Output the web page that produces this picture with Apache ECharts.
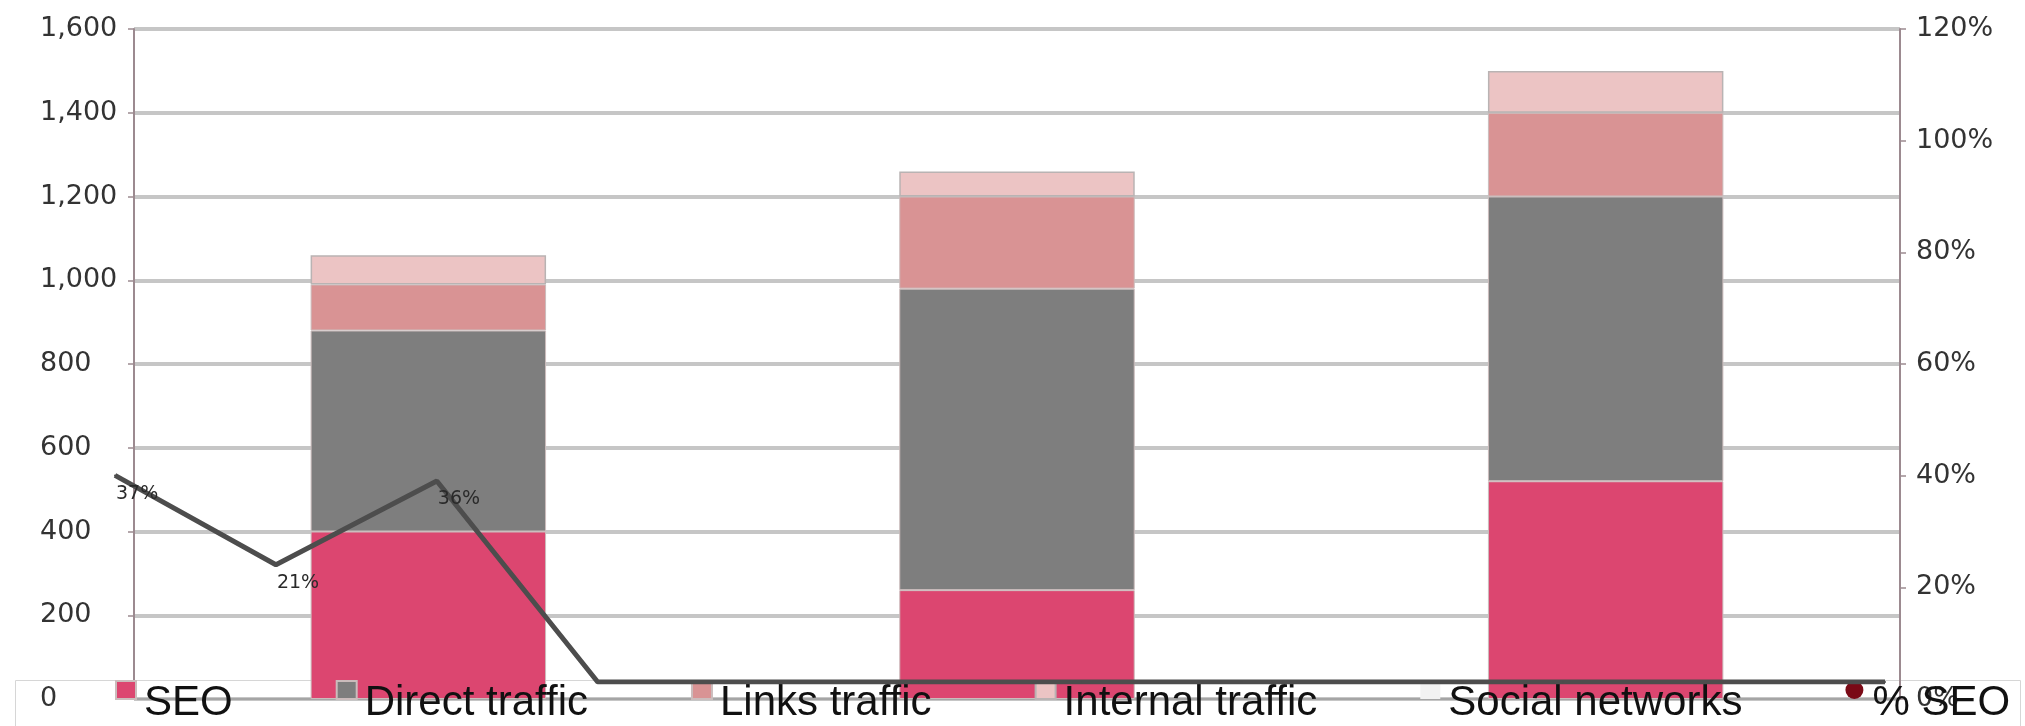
<!DOCTYPE html>
<html>
<head>
<meta charset="utf-8">
<script src="https://cdn.jsdelivr.net/npm/echarts@6/dist/echarts.min.js"></script>
<style>html,body{margin:0;padding:0;background:#fff;}#c{width:2025px;height:726px;}</style>
</head>
<body>
<div id="c"></div>
<script>
const categories = ['Period 1', 'Period 2', 'Period 3'];
const seoValues = [400, 260, 520];
const directValues = [480, 720, 680];
const linksValues = [110, 220, 200];
const internalValues = [70, 60, 100];
const socialValues = [0, 0, 0];
const months = ['Jan','Feb','Mar','Apr','May','Jun','Jul','Aug','Sep','Oct','Nov','Dec'];
const pctSeoValues = [37, 21, 36, 0, 0, 0, 0, 0, 0, 0, 0, 0];
const leftMax = 1600, leftInterval = 200;
const rightMax = 120, rightInterval = 20;

const chart = echarts.init(document.getElementById('c'), null, {renderer: 'canvas'});
const axisColor = '#9c8a90';
const barBorder = {borderColor: '#cbbcbc', borderWidth: 1};

chart.setOption({
  animation: false,
  backgroundColor: '#fff',
  grid: [
    {left: 134, right: 125, top: 29, bottom: 27},
    {left: 115, right: 140, top: 12, bottom: 44}
  ],
  graphic: [{
    type: 'rect', z: -1, silent: true,
    shape: {x: 15.5, y: 680.5, width: 2005, height: 60},
    style: {fill: 'none', stroke: '#d6d6d6', lineWidth: 1}
  }],
  legend: {
    left: 115, top: 664, padding: 0,
    itemWidth: 20, itemHeight: 18, itemGap: 103,
    formatter: name => '{s| }\n{t|' + name + '}',
    textStyle: {
      fontFamily: 'Liberation Sans', fontSize: 42, color: '#111',
      rich: {
        s: {fontSize: 10, lineHeight: 26},
        t: {fontFamily: 'Liberation Sans', fontSize: 42, lineHeight: 42, color: '#111', padding: [0, 0, 0, 3]}
      }
    },
    data: [
      {name: 'SEO', icon: 'rect'},
      {name: 'Direct traffic', icon: 'rect'},
      {name: 'Links traffic', icon: 'rect'},
      {name: 'Internal traffic', icon: 'rect'},
      {name: 'Social networks', icon: 'rect'},
      {name: '% SEO', icon: 'circle', itemStyle: {color: '#7a0a16'}}
    ]
  },
  xAxis: [
    {type: 'category', gridIndex: 0, data: categories,
     axisLine: {show: true, lineStyle: {color: '#9a9a9a', width: 1.5}},
     axisTick: {show: false}, axisLabel: {show: false}, splitLine: {show: false}},
    {type: 'category', gridIndex: 1, data: months, boundaryGap: false, show: false}
  ],
  yAxis: [
    {type: 'value', gridIndex: 0, min: 0, max: leftMax, interval: leftInterval,
     axisLine: {show: true, lineStyle: {color: axisColor, width: 2}},
     axisTick: {show: true, length: 6, lineStyle: {color: axisColor, width: 1.5}},
     axisLabel: {align: 'left', margin: 94, fontFamily: 'DejaVu Sans', fontSize: 27, color: '#333',
       formatter: v => v.toLocaleString('en-US')},
     splitLine: {show: true, lineStyle: {color: '#c6c6c6', width: 4}}},
    {type: 'value', gridIndex: 0, position: 'right', min: 0, max: rightMax, interval: rightInterval,
     axisLine: {show: true, lineStyle: {color: axisColor, width: 2}},
     axisTick: {show: true, length: 6, lineStyle: {color: axisColor, width: 1.5}},
     axisLabel: {margin: 16, fontFamily: 'DejaVu Sans', fontSize: 27, color: '#333', formatter: v => v + '%'},
     splitLine: {show: false}},
    {type: 'value', gridIndex: 1, min: 0, max: rightMax, show: false, splitLine: {show: false}}
  ],
  series: [
    {name: 'SEO', type: 'bar', stack: 't', barWidth: '40%', data: seoValues,
     itemStyle: Object.assign({color: '#dc4670'}, barBorder)},
    {name: 'Direct traffic', type: 'bar', stack: 't', data: directValues,
     itemStyle: Object.assign({color: '#7e7e7e'}, barBorder)},
    {name: 'Links traffic', type: 'bar', stack: 't', data: linksValues,
     itemStyle: Object.assign({color: '#d99394'}, barBorder)},
    {name: 'Internal traffic', type: 'bar', stack: 't', data: internalValues,
     itemStyle: {color: '#ecc4c4', borderColor: '#b9b3b3', borderWidth: 1.5}},
    {name: 'Social networks', type: 'bar', stack: 't', data: socialValues,
     itemStyle: {color: '#f2f2f2', borderWidth: 0}},
    {name: '% SEO', type: 'line', xAxisIndex: 1, yAxisIndex: 2, data: pctSeoValues,
     symbol: 'circle', symbolSize: 2, z: 10,
     itemStyle: {color: '#4d4d4d'},
     lineStyle: {color: '#4d4d4d', width: 5},
     label: {show: true, position: [2, 10], fontFamily: 'DejaVu Sans', fontSize: 19, color: '#2a2a2a',
       formatter: p => p.value ? p.value + '%' : ''}}
  ]
});
</script>
</body>
</html>
